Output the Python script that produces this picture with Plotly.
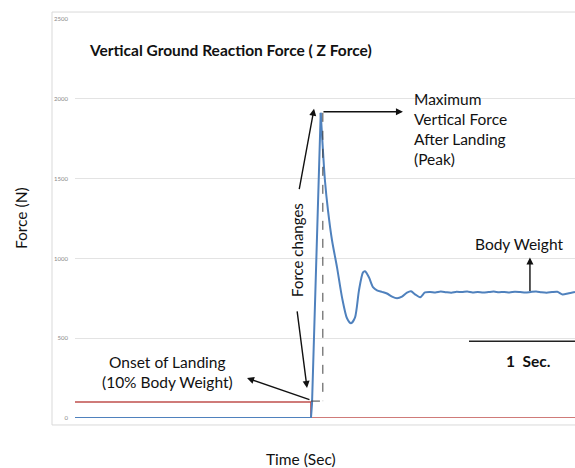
import plotly.graph_objects as go

# ---- data (time in seconds, force in newtons) ----
time_s = [0.000, 2.226, 2.236, 2.318, 2.358, 2.387, 2.425, 2.472, 2.519, 2.566,
          2.604, 2.642, 2.679, 2.717, 2.736, 2.774, 2.811, 2.849, 2.896, 2.943,
          2.991, 3.038, 3.085, 3.132, 3.170, 3.208, 3.255, 3.302,
          3.350, 3.400, 3.450, 3.500, 3.550, 3.600, 3.650, 3.700, 3.750, 3.800,
          3.850, 3.900, 3.950, 4.000, 4.050, 4.100, 4.150, 4.200, 4.250, 4.300,
          4.350, 4.400, 4.450, 4.500, 4.550, 4.600, 4.650, 4.717]
force_n = [0, 0, 90, 1912, 1488, 1300, 1112, 944, 756, 625,
           594, 631, 800, 912, 919, 880, 820, 800, 790, 780,
           760, 750, 760, 785, 794, 775, 756, 787,
           790, 786, 792, 788, 785, 791, 789, 793, 787, 790,
           786, 789, 792, 788, 790, 787, 791, 789, 786, 790,
           793, 788, 785, 789, 791, 774, 780, 790]

threshold_time = [0.000, 2.226, 2.226, 4.717]
threshold_force = [100, 100, 0, 0]

y_ticks = [0, 500, 1000, 1500, 2000, 2500]
x_range = [0, 4.717]
y_range = [0, 2500]

peak_idx = force_n.index(max(force_n))
peak_t = time_s[peak_idx]
peak_f = force_n[peak_idx]
onset_t = threshold_time[1]
onset_f = threshold_force[0]

FONT = "Lato"
fig = go.Figure()
fig.add_trace(go.Scatter(x=threshold_time, y=threshold_force, mode="lines",
                         line=dict(color="#c0504d", width=1.6), hoverinfo="skip"))
# rise segment (straight) and the rest (smoothed)
fig.add_trace(go.Scatter(x=time_s[:peak_idx + 1], y=force_n[:peak_idx + 1], mode="lines",
                         line=dict(color="#4f81bd", width=2), hoverinfo="skip"))
fig.add_trace(go.Scatter(x=time_s[peak_idx:], y=force_n[peak_idx:], mode="lines",
                         line=dict(color="#4f81bd", width=2, shape="spline", smoothing=0.7),
                         hoverinfo="skip"))

# dashed bracket from peak down to onset level
dash_t = peak_t + 0.02
fig.add_shape(type="line", x0=dash_t, x1=dash_t, y0=peak_f, y1=onset_f + 6,
              line=dict(color="#444444", width=1, dash="dash"))
fig.add_shape(type="line", x0=onset_t, x1=dash_t, y0=onset_f + 6, y1=onset_f + 6,
              line=dict(color="#444444", width=1, dash="dash"))

# 1 second scale bar
fig.add_shape(type="line", x0=x_range[1] - 1.0, x1=x_range[1], y0=481, y1=481,
              line=dict(color="#222222", width=1.6))

# outer frame
fig.add_shape(type="rect", xref="paper", yref="paper", x0=-0.046, x1=1.02,
              y0=-0.0175, y1=1.0175, line=dict(color="#d9d9d9", width=1), layer="below")

arrow_kw = dict(showarrow=True, arrowhead=2, arrowsize=1, arrowwidth=1.4,
                arrowcolor="#111111", axref="x", ayref="y", text="")
# peak arrow (horizontal)
fig.add_annotation(x=3.094, y=1919, ax=peak_t + 0.012, ay=1919, **arrow_kw)
# force changes up
fig.add_annotation(x=2.255, y=1937, ax=2.113, ay=1425, **arrow_kw)
# force changes down
fig.add_annotation(x=2.189, y=188, ax=2.094, ay=677, **arrow_kw)
# onset arrow
fig.add_annotation(x=1.623, y=250, ax=onset_t, ay=112, **arrow_kw)
# body weight arrow
fig.add_annotation(x=4.292, y=1006, ax=4.292, ay=787, **arrow_kw)

txt = dict(family=FONT, size=15.5, color="#111111")
fig.add_annotation(x=0.113, y=2306, text="<b>Vertical Ground Reaction Force ( Z Force)</b>",
                   showarrow=False, xanchor="left", yanchor="middle",
                   font=dict(family=FONT, size=15.5, color="#111111"))
fig.add_annotation(x=3.179, y=1808,
                   text="Maximum<br>Vertical Force<br>After Landing<br>(Peak)",
                   showarrow=False, xanchor="left", yanchor="middle", align="left", font=txt)
fig.add_annotation(x=2.094, y=1053, text="Force changes", textangle=-90,
                   showarrow=False, xanchor="center", yanchor="middle",
                   font=dict(family=FONT, size=15, color="#111111"))
fig.add_annotation(x=0.877, y=291, text="Onset of Landing<br>(10% Body Weight)",
                   showarrow=False, xanchor="center", yanchor="middle", align="center", font=txt)
fig.add_annotation(x=4.189, y=1090, text="Body Weight",
                   showarrow=False, xanchor="center", yanchor="middle", font=txt)
fig.add_annotation(x=4.274, y=357, text="<b>1  Sec.</b>",
                   showarrow=False, xanchor="center", yanchor="middle", font=txt)
fig.add_annotation(xref="paper", yref="paper", x=-0.108, y=0.501, text="Force (N)",
                   textangle=-90, showarrow=False, xanchor="center", yanchor="middle", font=txt)
fig.add_annotation(xref="paper", yref="paper", x=0.452, y=-0.102, text="Time (Sec)",
                   showarrow=False, xanchor="center", yanchor="middle", font=txt)

fig.update_layout(
    width=575, height=468,
    margin=dict(l=75, r=0, t=19, b=50),
    paper_bgcolor="white", plot_bgcolor="white",
    showlegend=False,
    xaxis=dict(range=x_range, showgrid=False, zeroline=False, showticklabels=False,
               showline=False, ticks=""),
    yaxis=dict(range=y_range, tickvals=y_ticks, showgrid=True, gridcolor="#e3e3e3",
               gridwidth=1, zeroline=False, showline=False, ticks="",
               tickfont=dict(family=FONT, size=6, color="#888888"), ticklabelstandoff=6),
)
fig.write_html("out.html")
